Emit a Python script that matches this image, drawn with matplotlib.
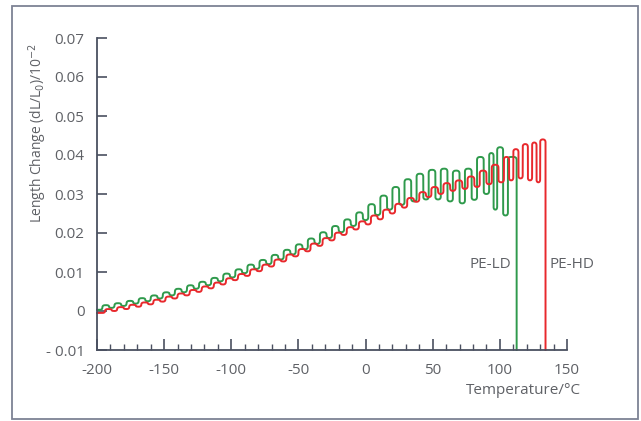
import numpy as np
import matplotlib
matplotlib.use("Agg")
import matplotlib.pyplot as plt
from matplotlib.patches import Rectangle

# PE-LD: temperature of each heating step, level just before the step, level at the top
ld_step_T = [-196, -187, -178, -169, -160, -151, -142, -133, -124, -115, -106, -97,
             -88, -79, -70, -61, -52, -43, -34, -25, -16, -7, 2, 11, 20, 29, 38,
             47, 56, 65, 74, 83, 92, 98, 106]
ld_low = [0.0003, 0.0008, 0.0013, 0.0019, 0.0025, 0.0032, 0.0040, 0.0048, 0.0057,
          0.0066, 0.0076, 0.0086, 0.0097, 0.0108, 0.0120, 0.0132, 0.0145, 0.0158,
          0.0172, 0.0187, 0.0202, 0.0218, 0.0233, 0.0246, 0.0260, 0.0272, 0.0281,
          0.0286, 0.0286, 0.0281, 0.0276, 0.0285, 0.0300, 0.0260, 0.0245]
ld_high = [0.0015, 0.0020, 0.0026, 0.0033, 0.0040, 0.0048, 0.0057, 0.0066, 0.0075,
           0.0085, 0.0096, 0.0107, 0.0119, 0.0131, 0.0144, 0.0157, 0.0171, 0.0186,
           0.0202, 0.0218, 0.0235, 0.0253, 0.0274, 0.0296, 0.0318, 0.0338, 0.0352,
           0.0362, 0.0365, 0.0360, 0.0365, 0.0395, 0.0405, 0.0420, 0.0395]
ld_end_T = 112.5

# PE-HD
hd_step_T = [-194, -185, -176, -167, -158, -149, -140, -131, -122, -113, -104, -95,
             -86, -77, -68, -59, -50, -41, -32, -23, -14, -5, 4, 13, 22, 31, 40,
             49, 58, 67, 76, 85, 94, 103, 110, 117, 124, 130]
hd_low = [-0.0005, 0.0000, 0.0005, 0.0011, 0.0017, 0.0024, 0.0032, 0.0040, 0.0049,
          0.0058, 0.0068, 0.0079, 0.0090, 0.0102, 0.0114, 0.0127, 0.0140, 0.0153,
          0.0167, 0.0181, 0.0195, 0.0209, 0.0222, 0.0235, 0.0250, 0.0265, 0.0280,
          0.0292, 0.0300, 0.0308, 0.0313, 0.0318, 0.0325, 0.0330, 0.0335, 0.0340,
          0.0335, 0.0330]
hd_high = [0.0005, 0.0010, 0.0016, 0.0022, 0.0029, 0.0037, 0.0045, 0.0054, 0.0063,
           0.0073, 0.0084, 0.0095, 0.0107, 0.0119, 0.0132, 0.0145, 0.0159, 0.0173,
           0.0187, 0.0201, 0.0215, 0.0230, 0.0245, 0.0260, 0.0275, 0.0290, 0.0305,
           0.0318, 0.0328, 0.0335, 0.0345, 0.0360, 0.0375, 0.0395, 0.0415, 0.0428,
           0.0432, 0.0440]
hd_end_T = 134.0

T_START = -200.0
Y_FLOOR = -0.01
TOP_FRAC = 0.55  # share of each step spent on the upper level

# pixel scale of the axes, used to round the corners evenly in both directions
PX_PER_X = 470 / 350
PX_PER_Y = 312 / 0.08
CORNER_PX = 3.0


def step_path(step_T, low, high, end_T):
    """Square-wave trace: jump up at each step, hold, drop back to the next base level."""
    xs = [T_START]
    ys = [low[0]]
    n = len(step_T)
    for i in range(n):
        t0 = step_T[i]
        t1 = step_T[i + 1] if i + 1 < n else end_T
        xs += [t0, t0]
        ys += [low[i], high[i]]
        if i + 1 < n:
            tdrop = t0 + TOP_FRAC * (t1 - t0)
            xs += [tdrop, tdrop]
            ys += [high[i], low[i + 1]]
        else:
            xs += [end_T, end_T]
            ys += [high[i], Y_FLOOR]
    return np.array(xs, float), np.array(ys, float)


def round_corners(xs, ys, radius=CORNER_PX, n_seg=6):
    """Replace each sharp vertex with a short quadratic Bezier."""
    px = np.column_stack([xs * PX_PER_X, ys * PX_PER_Y])
    out = [px[0]]
    s = np.linspace(0, 1, n_seg)[:, None]
    for k in range(1, len(px) - 1):
        a, v, b = px[k - 1], px[k], px[k + 1]
        da, db = a - v, b - v
        la, lb = np.hypot(*da), np.hypot(*db)
        if la < 1e-9 or lb < 1e-9:
            continue
        p0 = v + da / la * min(radius, la / 2)
        p1 = v + db / lb * min(radius, lb / 2)
        curve = (1 - s) ** 2 * p0 + 2 * (1 - s) * s * v + s ** 2 * p1
        out.extend(curve)
    out.append(px[-1])
    out = np.array(out)
    return out[:, 0] / PX_PER_X, out[:, 1] / PX_PER_Y


text_col = "#5f6166"
axis_col = "#4a5060"
green = "#2f9a4c"
red = "#e8282c"

plt.rcParams["font.family"] = ["Open Sans", "DejaVu Sans"]

fig = plt.figure(figsize=(6.41, 4.21), dpi=100)
fig.patches.append(Rectangle((12 / 641, 2 / 421), 626 / 641, 413 / 421,
                             transform=fig.transFigure, fill=False,
                             edgecolor="#7d8294", linewidth=1.3))

ax = fig.add_axes([97 / 641, 71 / 421, 470 / 641, 312 / 421])
ax.set_xlim(-200, 150)
ax.set_ylim(-0.01, 0.07)

x, y = round_corners(*step_path(ld_step_T, ld_low, ld_high, ld_end_T))
ax.plot(x, y, color=green, lw=1.4, solid_joinstyle="round", clip_on=False)
x, y = round_corners(*step_path(hd_step_T, hd_low, hd_high, hd_end_T))
ax.plot(x, y, color=red, lw=1.4, solid_joinstyle="round", clip_on=False)

for s in ("top", "right"):
    ax.spines[s].set_visible(False)
for s in ("left", "bottom"):
    ax.spines[s].set_color(axis_col)
    ax.spines[s].set_linewidth(1.3)

yticks = [0.07, 0.06, 0.05, 0.04, 0.03, 0.02, 0.01, 0.0, -0.01]
ytick_labels = ["0.07", "0.06", "0.05", "0.04", "0.03", "0.02", "0.01", "0", "- 0.01"]
xticks = [-200, -150, -100, -50, 0, 50, 100, 150]
ax.set_yticks(yticks)
ax.set_yticklabels(ytick_labels)
ax.set_xticks(xticks)
ax.set_xticklabels([str(v) for v in xticks])
ax.set_xticks(np.arange(-200, 151, 10), minor=True)

ax.tick_params(axis="y", direction="in", length=7, width=1.2, colors=axis_col,
               labelcolor=text_col, labelsize=11, pad=9)
ax.tick_params(axis="x", which="major", direction="in", length=8, width=1.2,
               colors=axis_col, labelcolor=text_col, labelsize=11, pad=9)
ax.tick_params(axis="x", which="minor", direction="in", length=4, width=1.0,
               colors=axis_col)

fig.text(38 / 641, 1 - 133 / 421, "Length Change (dL/L$_0$)/10$^{-2}$", rotation=90,
         ha="center", va="center", color=text_col, fontsize=10)
fig.text(523 / 641, 1 - 390 / 421, "Temperature/°C", ha="center", va="center",
         color=text_col, fontsize=11)

ax.text(108.5, 0.0118, "PE-LD", ha="right", va="center", color=text_col, fontsize=11)
ax.text(137, 0.0118, "PE-HD", ha="left", va="center", color=text_col, fontsize=11)

fig.savefig("out.png", dpi=100)
